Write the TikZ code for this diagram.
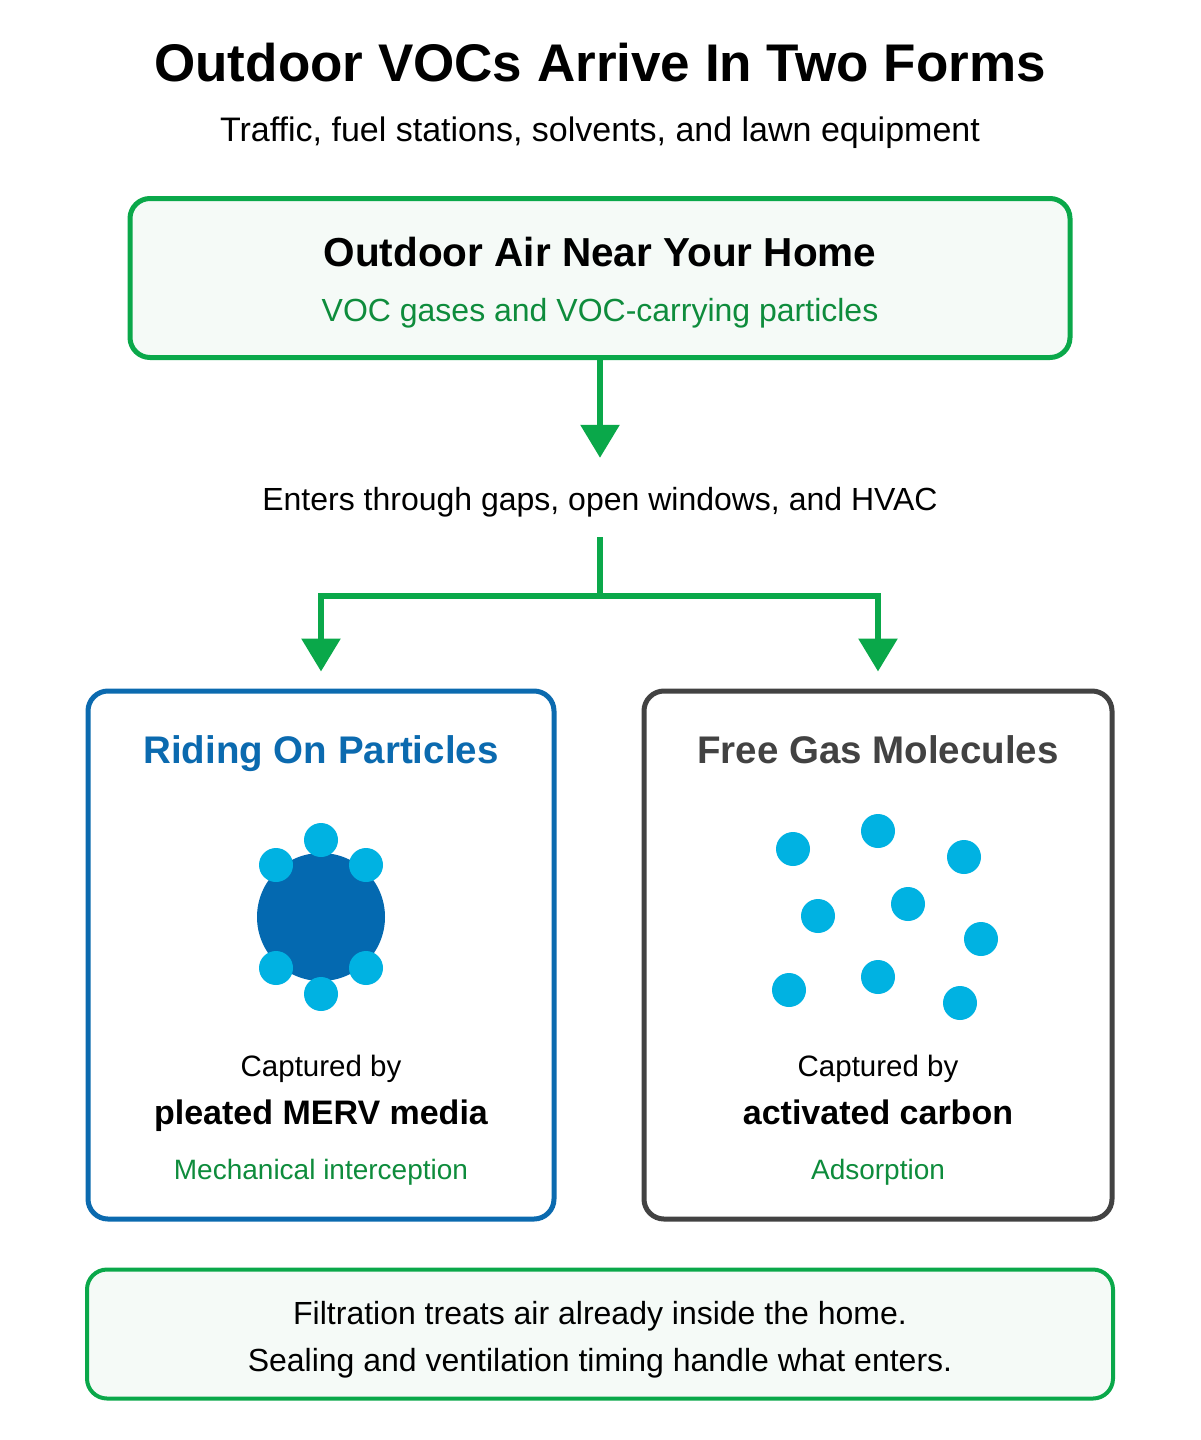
\documentclass[tikz,border=0pt]{standalone}
\usepackage{fontspec}
\setmainfont{Liberation Sans}
\usetikzlibrary{arrows.meta,positioning}

\definecolor{flowgreen}{HTML}{0AA84A}
\definecolor{notegreen}{HTML}{0E8C3C}
\definecolor{boxfill}{HTML}{F5FAF7}
\definecolor{partblue}{HTML}{0B6AAF}
\definecolor{coreblue}{HTML}{0469B0}
\definecolor{dotcyan}{HTML}{00B2E2}
\definecolor{gasgray}{HTML}{424242}

\tikzset{
  fs/.style={font=\fontsize{#1}{#1}\selectfont},
  bfs/.style={font=\fontsize{#1}{#1}\selectfont\bfseries},
  txt/.style={anchor=base, inner sep=0pt},
  panel/.style={draw, line width=5pt, rounded corners=20pt, inner sep=0pt},
  flow/.style={draw=flowgreen, line width=6pt, -{Triangle[width=38pt,length=33pt]}},
}

\begin{document}
\begin{tikzpicture}[x=1pt, y=-1pt]
      \useasboundingbox (0,0) rectangle (1200,1440);

      % title
      \node[txt, bfs=53] (title) at (600,81) {Outdoor VOCs Arrive In Two Forms};
      \node[txt, fs=34] (sub) at (600,141) {Traffic, fuel stations, solvents, and lawn equipment};

      % boxes
      \node[panel, draw=flowgreen, fill=boxfill, minimum width=940pt, minimum height=159pt] (air) at (600,278) {};
      \node[panel, draw=partblue, fill=white, minimum width=466pt, minimum height=528pt] (part) at (321,955) {};
      \node[panel, draw=gasgray, fill=white, minimum width=468pt, minimum height=528pt] (gas) at (878,955) {};
      \node[panel, draw=flowgreen, line width=4pt, fill=boxfill, minimum width=1026pt, minimum height=129pt] (note) at (600,1334) {};

      \node[txt, bfs=40.5] (airhead) at (600,266) {Outdoor Air Near Your Home};
      \node[txt, fs=32, text=notegreen] (airsub) at (600,321) {VOC gases and VOC-carrying particles};

      \node[fs=32, inner sep=0pt, text height=22pt, text depth=6pt] (enters) at (600,502) {Enters through gaps, open windows, and HVAC};
      \coordinate (split) at (600,596);

      \draw[flow, shorten >=30pt] (air) -- (enters);
      \draw[flowgreen, line width=6pt, shorten <=21pt] (enters) -- (split);
      \draw[flow, shorten >=17pt] (split) -| (part.north);
      \draw[flow, shorten >=17pt] (split) -| (gas.north);

      % particle side
      \node[txt, bfs=38.5, text=partblue] (parthead) at (321,763) {Riding On Particles};
      \fill[coreblue] (321,917) circle (64);
      \foreach \px/\py in {321/840, 276/865, 366/865, 276/968, 366/968, 321/994}
        \fill[dotcyan] (\px,\py) circle (17);
      \node[txt, fs=29.5] (partcap) at (321,1076) {Captured by};
      \node[txt, bfs=34] (partby) at (321,1124) {pleated MERV media};
      \node[txt, fs=28, text=notegreen] (partway) at (321,1179) {Mechanical interception};

      % gas side
      \node[txt, bfs=38.5, text=gasgray] (gashead) at (878,763) {Free Gas Molecules};
      \foreach \gx/\gy in {793/849, 878/831, 964/857, 818/916, 908/904, 981/939, 789/990, 878/977, 960/1003}
        \fill[dotcyan] (\gx,\gy) circle (17);
      \node[txt, fs=29.5] (gascap) at (878,1076) {Captured by};
      \node[txt, bfs=34] (gasby) at (878,1124) {activated carbon};
      \node[txt, fs=28, text=notegreen] (gasway) at (878,1179) {Adsorption};

      % note
      \node[txt, fs=32] (note1) at (600,1324) {Filtration treats air already inside the home.};
      \node[txt, fs=32] (note2) at (600,1371) {Sealing and ventilation timing handle what enters.};
\end{tikzpicture}
\end{document}
